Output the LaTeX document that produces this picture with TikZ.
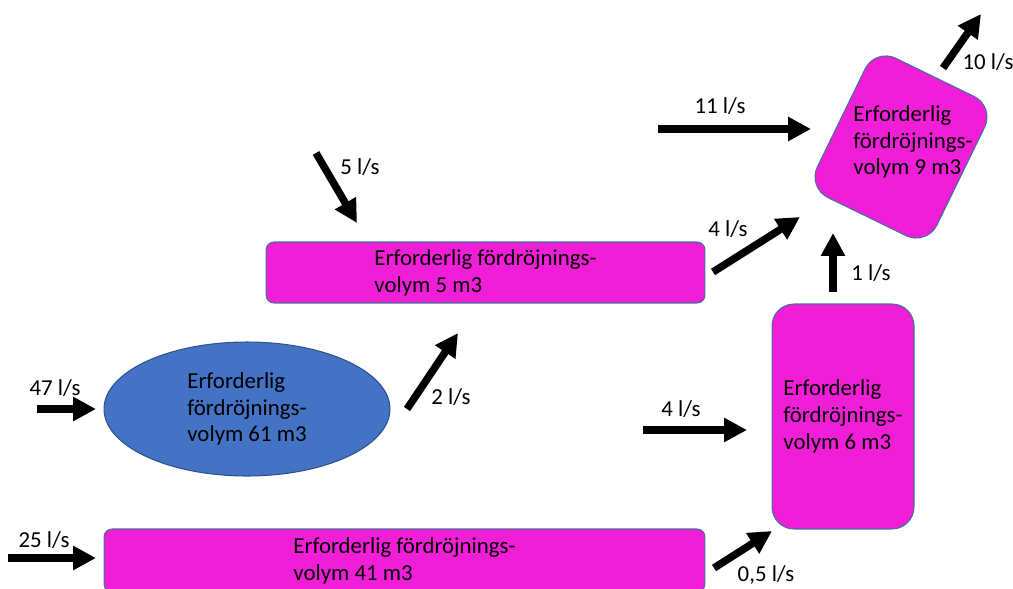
\documentclass[tikz,border=0pt]{standalone}
\usepackage{fontspec}
\setmainfont{Carlito}
\usepackage{xcolor}
\definecolor{tankFill}   {HTML}{F01ED6}
\definecolor{tankLine}   {HTML}{41719C}
\definecolor{poolFill}   {HTML}{4472C4}
\definecolor{poolLine}   {HTML}{2F528F}
\usetikzlibrary{arrows.meta, positioning, shapes.geometric}
\tikzset{
    tank/.style={rectangle, draw=tankLine, fill=tankFill, line width=0.6pt,
                 align=left, font=\fontsize{13}{15.3}\selectfont},
    pool/.style={ellipse, draw=poolLine, fill=poolFill, line width=0.6pt,
                 inner sep=0pt, align=left, font=\fontsize{13}{15.3}\selectfont},
    tanktext/.style={align=left, font=\fontsize{13}{15.3}\selectfont},
    flowlabel/.style={font=\fontsize{13}{15.3}\selectfont, inner sep=1pt},
    flow/.style={-{Triangle[length=4.6mm, width=4.6mm]}, line width=1.5mm},
}

\begin{document}
\begin{tikzpicture}[x=0.02cm, y=-0.02cm]
    \useasboundingbox (0,0) rectangle (1013,588);

    % magasin
    \node[tank, minimum width=87.8mm, minimum height=12.2mm, rounded corners=1.6mm]
        (vol5) at (485.5,272.5) {Erforderlig fördröjnings-\\volym 5 m3};
    \node[pool, minimum width=57.2mm, minimum height=26.8mm]
        (vol61) at (247,409) {Erforderlig\\fördröjnings-\\volym 61 m3};
    \node[tank, minimum width=120.2mm, minimum height=12.6mm, rounded corners=1.6mm]
        (vol41) at (404.5,560.5) {Erforderlig fördröjnings-\\volym 41 m3};
    \node[tank, minimum width=28.4mm, minimum height=45mm, rounded corners=4.4mm]
        (vol6) at (843,416.5) {Erforderlig\\fördröjnings-\\volym 6 m3};
    \node[tank, rotate=-26, minimum width=26.6mm, minimum height=31mm, rounded corners=4.6mm]
        (vol9) at (901,147) {};
    \node[tanktext] (vol9txt) at (913,142) {Erforderlig\\fördröjnings-\\volym 9 m3};

    % ändpunkter för pilarna
    \coordinate (in47s)  at (37,409);   \coordinate (in47e)  at (96,409);
    \coordinate (in25s)  at (8,558);    \coordinate (in25e)  at (96,558);
    \coordinate (q2s)    at (407,409);  \coordinate (q2e)    at (458,333);
    \coordinate (in5s)   at (316,153);  \coordinate (in5e)   at (357,223);
    \coordinate (q4as)   at (713,272);  \coordinate (q4ae)   at (800,217);
    \coordinate (in11s)  at (658,129);  \coordinate (in11e)  at (811,129);
    \coordinate (out10s) at (943,68);   \coordinate (out10e) at (981,14);
    \coordinate (q1s)    at (833,292);  \coordinate (q1e)    at (833,233);
    \coordinate (in4bs)  at (643,430);  \coordinate (in4be)  at (747,430);
    \coordinate (q05s)   at (714,568);  \coordinate (q05e)   at (772,531);

    \draw[flow] (in47s) -- (in47e);
    \draw[flow] (in25s) -- (in25e);
    \draw[flow] (q2s) -- (q2e);
    \draw[flow] (in5s) -- (in5e);
    \draw[flow] (q4as) -- (q4ae);
    \draw[flow] (in11s) -- (in11e);
    \draw[flow] (out10s) -- (out10e);
    \draw[flow] (q1s) -- (q1e);
    \draw[flow] (in4bs) -- (in4be);
    \draw[flow] (q05s) -- (q05e);

    % flöden
    \node[flowlabel] (l47)  at (55,388)  {47 l/s};
    \node[flowlabel] (l25)  at (44,540)  {25 l/s};
    \node[flowlabel] (l2)   at (451,397) {2 l/s};
    \node[flowlabel] (l5)   at (360,167) {5 l/s};
    \node[flowlabel] (l4a)  at (728,229) {4 l/s};
    \node[flowlabel] (l11)  at (720,106) {11 l/s};
    \node[flowlabel] (l10)  at (988,62)  {10 l/s};
    \node[flowlabel] (l1)   at (871,273) {1 l/s};
    \node[flowlabel] (l4b)  at (681,409) {4 l/s};
    \node[flowlabel] (l05)  at (766,575) {0,5 l/s};
\end{tikzpicture}
\end{document}
